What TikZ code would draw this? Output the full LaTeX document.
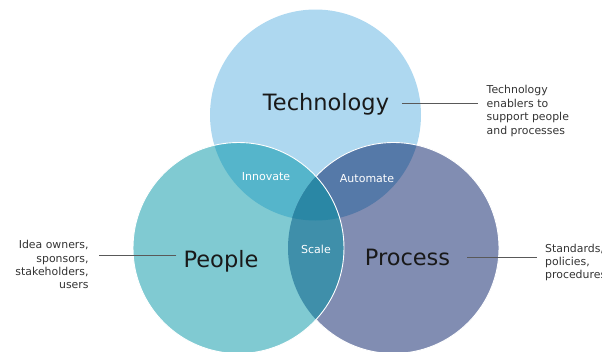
\documentclass[tikz,border=0pt]{standalone}
\usepackage{fontspec}
\setmainfont{DejaVu Sans}
\usepackage{tikz}
\usetikzlibrary{positioning}

\definecolor{techblue}{HTML}{AED8F0}
\definecolor{peopleteal}{HTML}{80CAD2}
\definecolor{procblue}{HTML}{818DB2}
\definecolor{innovcol}{HTML}{55B5CB}
\definecolor{autocol}{HTML}{5579A8}
\definecolor{scalecol}{HTML}{3F8FAA}
\definecolor{corecol}{HTML}{2A87A5}

\begin{document}
\begin{tikzpicture}[x=1pt, y=1pt,
    big/.style={inner sep=0pt, anchor=base, text=black!90,
        font=\fontsize{22.5}{27}\selectfont},
    tag/.style={inner sep=0pt, text=white, font=\fontsize{11}{13}\selectfont},
    note/.style={inner sep=0pt, text=black!80,
        font=\fontsize{10.9}{13.4}\selectfont},
    link/.style={draw=black!65, line width=0.9pt},
    rim/.style={draw=white, line width=0.9pt}
]

\useasboundingbox (0,0) rectangle (602,-351);

\coordinate (tc) at (315.5,-115);
\coordinate (pc) at (238.5,-248);
\coordinate (rc) at (393.5,-248);

\fill[techblue] (tc) circle (105.5pt);
\fill[procblue] (rc) circle (105.5pt);
\fill[peopleteal] (pc) circle (105.5pt);
\begin{scope}
    \clip (tc) circle (105.5pt);
    \fill[innovcol] (pc) circle (105.5pt);
    \fill[autocol] (rc) circle (105.5pt);
\end{scope}
\begin{scope}
    \clip (pc) circle (105.5pt);
    \fill[scalecol] (rc) circle (105.5pt);
    \clip (tc) circle (105.5pt);
    \fill[corecol] (rc) circle (105.5pt);
\end{scope}
\draw[rim] (pc) circle (105.5pt);
\draw[rim] (rc) ++(-137.3:105.5pt) arc[start angle=-137.3, end angle=137.3, radius=105.5pt];

\node[big] (tech) at (326,-110) {Technology};
\node[big] (people) at (221,-267) {People};
\node[big] (process) at (407.5,-265) {Process};

\node[tag] (innovate) at (266,-177) {Innovate};
\node[tag] (automate) at (367,-179) {Automate};
\node[tag] (scale) at (316,-249) {Scale};

\node[note, anchor=west, align=left] (technote) at (486.5,-111)
    {Technology\\enablers to\\support people\\and processes};
\node[note, anchor=east, align=right] (ideas) at (88.8,-264.8)
    {Idea owners,\\sponsors,\\stakeholders,\\users};
\node[note, anchor=west, align=left] (standards) at (545,-262.4)
    {Standards,\\policies,\\procedures};

\draw[link, shorten <=12.6pt, shorten >=8.8pt] (tech.east) -- (tech.east -| technote.west);
\draw[link, shorten <=7pt, shorten >=9.7pt] ([yshift=5pt]people.west) -- ([yshift=5pt]people.west -| ideas.east);
\draw[link, shorten <=17pt, shorten >=8.5pt] (process.east) -- (process.east -| standards.west);

\end{tikzpicture}
\end{document}
